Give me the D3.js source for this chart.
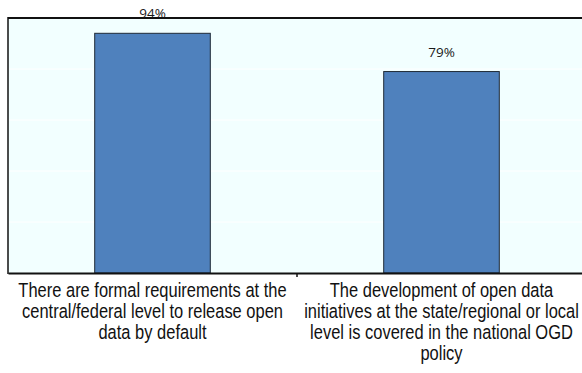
<!DOCTYPE html>
<html>
<head>
<meta charset="utf-8">
<script src="https://cdn.jsdelivr.net/npm/d3@7"></script>
<style>
  html, body { margin: 0; padding: 0; background: #ffffff; }
  svg { display: block; }
</style>
</head>
<body>
<svg id="chart" width="582" height="373"></svg>
<script>
// Share of countries (%) for two open government data policy questions
const categories = [
  "There are formal requirements at the central/federal level to release open data by default",
  "The development of open data initiatives at the state/regional or local level is covered in the national OGD policy"
];
const values = [94, 79];
const valueLabels = ["94%", "79%"];
const gridTicks = [20, 40, 60, 80];

const W = 582, H = 373;
const margin = { top: 18, right: -4, bottom: 100, left: 8 };

const svg = d3.select("#chart");
const x0 = margin.left, x1 = W - margin.right;
const y0 = H - margin.bottom, y1 = margin.top;

const x = d3.scaleBand().domain(categories).range([x0, x1]).padding(0);
const y = d3.scaleLinear().domain([0, 100]).range([y0, y1]);

// plot area background
svg.append("rect")
  .attr("x", x0).attr("y", y1)
  .attr("width", x1 - x0).attr("height", y0 - y1)
  .attr("fill", "#f2ffff");

// white horizontal gridlines
svg.append("g")
  .selectAll("line")
  .data(gridTicks)
  .join("line")
  .attr("x1", x0).attr("x2", x1)
  .attr("y1", d => y(d)).attr("y2", d => y(d))
  .attr("stroke", "#ffffff").attr("stroke-width", 1);

// bars: 40% of each category band, centred
const barFrac = 0.4;
svg.append("g")
  .selectAll("rect")
  .data(values)
  .join("rect")
  .attr("x", (d, i) => x(categories[i]) + x.bandwidth() * (1 - barFrac) / 2)
  .attr("width", x.bandwidth() * barFrac)
  .attr("y", d => y(d))
  .attr("height", d => y(0) - y(d))
  .attr("fill", "#4f81bd")
  .attr("stroke", "#1f2a36")
  .attr("stroke-width", 1);

// value labels
svg.append("g")
  .selectAll("text")
  .data(values)
  .join("text")
  .attr("x", (d, i) => x(categories[i]) + x.bandwidth() / 2)
  .attr("y", d => y(d) - 15)
  .attr("text-anchor", "middle")
  .attr("font-family", "'Open Sans', 'Noto Sans', sans-serif")
  .attr("font-size", 13.5)
  .attr("fill", "#1a1a1a")
  .text((d, i) => valueLabels[i]);

// frame: top and left edges
svg.append("line")
  .attr("x1", x0).attr("x2", W).attr("y1", y1).attr("y2", y1)
  .attr("stroke", "#111").attr("stroke-width", 2);
svg.append("line")
  .attr("x1", x0).attr("x2", x0).attr("y1", y1 - 1).attr("y2", y0 + 1)
  .attr("stroke", "#111").attr("stroke-width", 1.5);

// category axis
const axis = svg.append("g")
  .attr("transform", `translate(0,${y0})`)
  .call(d3.axisBottom(x).tickSize(0).tickFormat(""));
axis.select(".domain").attr("stroke", "#111").attr("stroke-width", 2);

// tick between the categories
svg.append("line")
  .attr("x1", x(categories[1])).attr("x2", x(categories[1]))
  .attr("y1", y0).attr("y2", y0 + 4)
  .attr("stroke", "#111").attr("stroke-width", 1.5);

// wrapped category labels, drawn in a horizontally condensed sans
const squeeze = 0.845;
function wrapLines(textSel, str, maxW) {
  const words = str.split(/\s+/);
  const lines = [];
  let cur = [];
  const probe = textSel.append("tspan");
  for (const w of words) {
    const trial = cur.concat(w).join(" ");
    probe.text(trial);
    if (probe.node().getComputedTextLength() > maxW && cur.length) {
      lines.push(cur.join(" "));
      cur = [w];
    } else {
      cur.push(w);
    }
  }
  if (cur.length) lines.push(cur.join(" "));
  probe.remove();
  return lines;
}

const labelG = svg.append("g");
categories.forEach((c, i) => {
  const cx = x(c) + x.bandwidth() / 2;
  const t = labelG.append("text")
    .attr("transform", `translate(${cx},0) scale(${squeeze},1)`)
    .attr("text-anchor", "middle")
    .attr("font-family", "'Liberation Sans', Arial, sans-serif")
    .attr("font-size", 19.5)
    .attr("fill", "#111");
  const lines = wrapLines(t, c, 283 / squeeze);
  lines.forEach((ln, k) => {
    t.append("tspan")
      .attr("x", 0)
      .attr("y", 297 + k * 21)
      .text(ln);
  });
});
</script>
</body>
</html>
